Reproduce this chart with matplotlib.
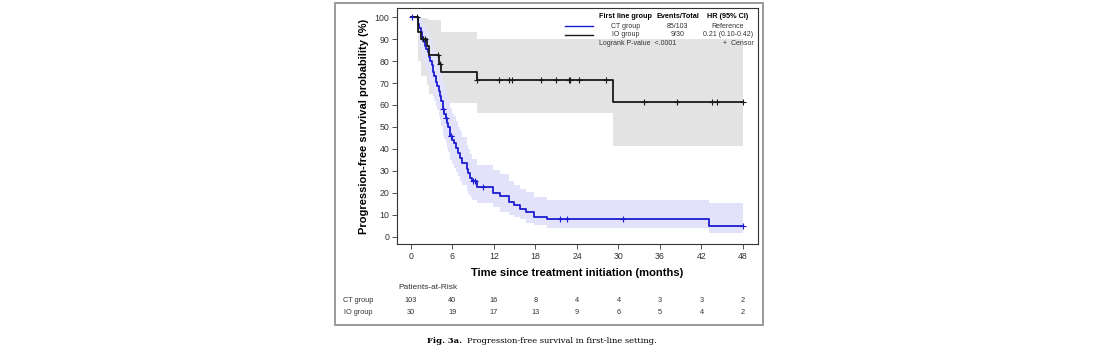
import numpy as np
import matplotlib
matplotlib.use('Agg')
import matplotlib.pyplot as plt
from matplotlib.lines import Line2D
from matplotlib.patches import Rectangle
from matplotlib import transforms

plt.rcParams['font.family'] = ['Liberation Sans', 'DejaVu Sans']

# CT group (Kaplan-Meier steps)
ct_t = [0, 1.0, 1.2, 1.4, 1.6, 1.8, 2.0, 2.2, 2.4, 2.6, 2.8, 3.0, 3.2, 3.4, 3.6, 3.8, 4.0, 4.2, 4.4, 4.6,
        4.8, 5.0, 5.2, 5.4, 5.6, 5.9, 6.2, 6.5, 6.8, 7.1, 7.4, 8.1, 8.3, 8.5, 8.8, 9.5, 11.9, 12.9, 14.2,
        14.9, 15.8, 16.7, 17.8, 19.7, 43.1]
ct_s = [100, 97, 95, 93, 91, 89, 87, 85.5, 84, 82, 80, 78, 75, 73, 70.5, 68.5, 66.5, 64, 62, 58,
        56, 54, 52, 50, 46, 44, 42.7, 40.5, 38, 36, 33.8, 31, 29, 26.8, 25.6, 22.6, 20.2, 18.6, 16.1,
        14.4, 12.9, 11.5, 9.2, 8.0, 5.15]
ct_hi = [100, 100, 100, 99.5, 98.5, 97, 95.5, 94.5, 93, 91.5, 90, 88, 86, 84.5, 82.5, 80.5, 78.5, 76.5,
         74.5, 70.5, 68.5, 66.5, 64.5, 62.5, 58.5, 56.5, 55, 52.5, 50, 48, 45.5, 42, 40, 37.5, 35.5, 32.5,
         30.5, 28.5, 25.5, 23.5, 22, 20.5, 18.3, 16.8, 15.3]
ct_lo = [100, 90, 87, 84.5, 82, 80, 77.5, 76, 74, 72, 69.5, 67.5, 64, 62, 59.5, 57.5, 55, 53, 50.5, 46.5,
         44.5, 42.5, 40.5, 38.5, 35, 33, 31.5, 29.5, 27.5, 25.5, 23.5, 21, 19.5, 18, 17, 15.5, 13.5, 11.5,
         10, 9, 8, 6.5, 5.5, 4.0, 1.7]
ct_censor = [0.1, 4.67, 5.0, 5.75, 5.85, 8.9, 9.2, 10.45, 21.6, 22.5, 30.7, 48.0]

# IO group
io_t = [0, 1.0, 1.4, 2.3, 2.6, 4.0, 4.3, 9.5, 29.2]
io_s = [100, 93.3, 90.0, 86.6, 82.6, 78.8, 75.0, 71.4, 61.2]
io_hi = [100, 99.8, 99.5, 99.2, 98.8, 98.5, 93.0, 89.9, 89.9]
io_lo = [100, 80, 73, 69, 65, 62, 60.8, 56.2, 41.5]
io_censor = [0.8, 1.7, 2.0, 3.9, 4.15, 9.55, 12.7, 14.1, 14.6, 18.75, 20.9, 22.8, 23.0, 24.3, 28.2,
             33.7, 38.5, 43.5, 44.3, 48.0]

t_end = 48
risk_times = [0, 6, 12, 18, 24, 30, 36, 42, 48]
ct_risk = [103, 40, 16, 8, 4, 4, 3, 3, 2]
io_risk = [30, 19, 17, 13, 9, 6, 5, 4, 2]

W, H = 1100, 353
fx = lambda px: px / W
fy = lambda py: 1 - py / H

blue = '#1c1cd0'
dark = '#1a1a1a'
fig = plt.figure(figsize=(11, 3.53), dpi=100)
ax = fig.add_axes([fx(397), fy(244), fx(758) - fx(397), fy(8) - fy(244)])


def at(t, s, c):
    idx = np.searchsorted(t, c, side='right') - 1
    return np.array(s)[idx]


# confidence bands
ax.fill_between(io_t + [t_end], io_lo + [io_lo[-1]], io_hi + [io_hi[-1]], step='post',
                color='#e3e3e3', lw=0)
ax.fill_between(ct_t + [t_end], ct_lo + [ct_lo[-1]], ct_hi + [ct_hi[-1]], step='post',
                color='#e2e2fb', lw=0)

# curves
ax.step(ct_t + [t_end], ct_s + [ct_s[-1]], where='post', color=blue, lw=1.3)
ax.step(io_t + [t_end], io_s + [io_s[-1]], where='post', color=dark, lw=1.3)
ax.plot(ct_censor, at(ct_t, ct_s, ct_censor), '+', color=blue, ms=5, mew=0.8)
ax.plot(io_censor, at(io_t, io_s, io_censor), '+', color=dark, ms=5, mew=0.8)

ax.set_xlim(-2.02, 50.17)
ax.set_ylim(-3.2, 104.1)
ax.set_xticks(risk_times)
ax.set_yticks(range(0, 101, 10))
ax.tick_params(direction='out', length=3.5, width=0.6, color='#333333', labelcolor='#333333',
               labelsize=6.3, pad=2)
for sp in ax.spines.values():
    sp.set_linewidth(0.8)
    sp.set_color('#333333')
ax.set_xlabel('Time since treatment initiation (months)', fontsize=8, fontweight='bold', labelpad=5)
ax.set_ylabel('Progression-free survival probability (%)', fontsize=8, fontweight='bold', labelpad=4)

# legend block
fig.text(fx(599), fy(16), 'First line group', fontsize=5.2, fontweight='bold', va='center')
fig.text(fx(677.5), fy(16), 'Events/Total', fontsize=5.2, fontweight='bold', va='center', ha='center')
fig.text(fx(728), fy(16), 'HR (95% CI)', fontsize=5.2, fontweight='bold', va='center', ha='center')
rows = [('CT group', '85/103', 'Reference', blue, 26), ('IO group', '9/30', '0.21 (0.10-0.42)', dark, 34.7)]
for name, ev, hr, col, py in rows:
    fig.add_artist(Line2D([fx(565), fx(593)], [fy(py), fy(py)], color=col, lw=1.0))
    fig.text(fx(626), fy(py), name, fontsize=5, va='center', ha='center', color='#333333')
    fig.text(fx(677.5), fy(py), ev, fontsize=5, va='center', ha='center', color='#333333')
    fig.text(fx(728), fy(py), hr, fontsize=5, va='center', ha='center', color='#333333')
fig.text(fx(599), fy(43.3), 'Logrank P-value  <.0001', fontsize=5, va='center', color='#333333')
fig.text(fx(754), fy(43.3), '+  Censor', fontsize=5, va='center', ha='right', color='#333333')

# patients at risk
tr = transforms.blended_transform_factory(ax.transData, fig.transFigure)
fig.text(fx(398), fy(287.3), 'Patients-at-Risk', fontsize=6, va='center', color='#333333')
fig.text(fx(373), fy(300), 'CT group', fontsize=5.3, va='center', ha='right', color='#333333')
fig.text(fx(373), fy(312), 'IO group', fontsize=5.3, va='center', ha='right', color='#333333')
for t, c, i in zip(risk_times, ct_risk, io_risk):
    ax.text(t, fy(300), str(c), transform=tr, fontsize=5.3, ha='center', va='center', color='#333333')
    ax.text(t, fy(312), str(i), transform=tr, fontsize=5.3, ha='center', va='center', color='#333333')

# outer frame and caption
fig.add_artist(Rectangle((fx(335), fy(325)), fx(763) - fx(335), fy(3) - fy(325), fill=False,
                         ec='#9a9a9a', lw=1.4))
fig.text(fx(461.7), fy(341), 'Fig. 3a.', fontsize=6, fontweight='bold', ha='right', va='center',
         family='DejaVu Serif')
fig.text(fx(466.7), fy(341), 'Progression-free survival in first-line setting.', fontsize=6,
         ha='left', va='center', family='DejaVu Serif')

fig.savefig('out.png', dpi=100)
